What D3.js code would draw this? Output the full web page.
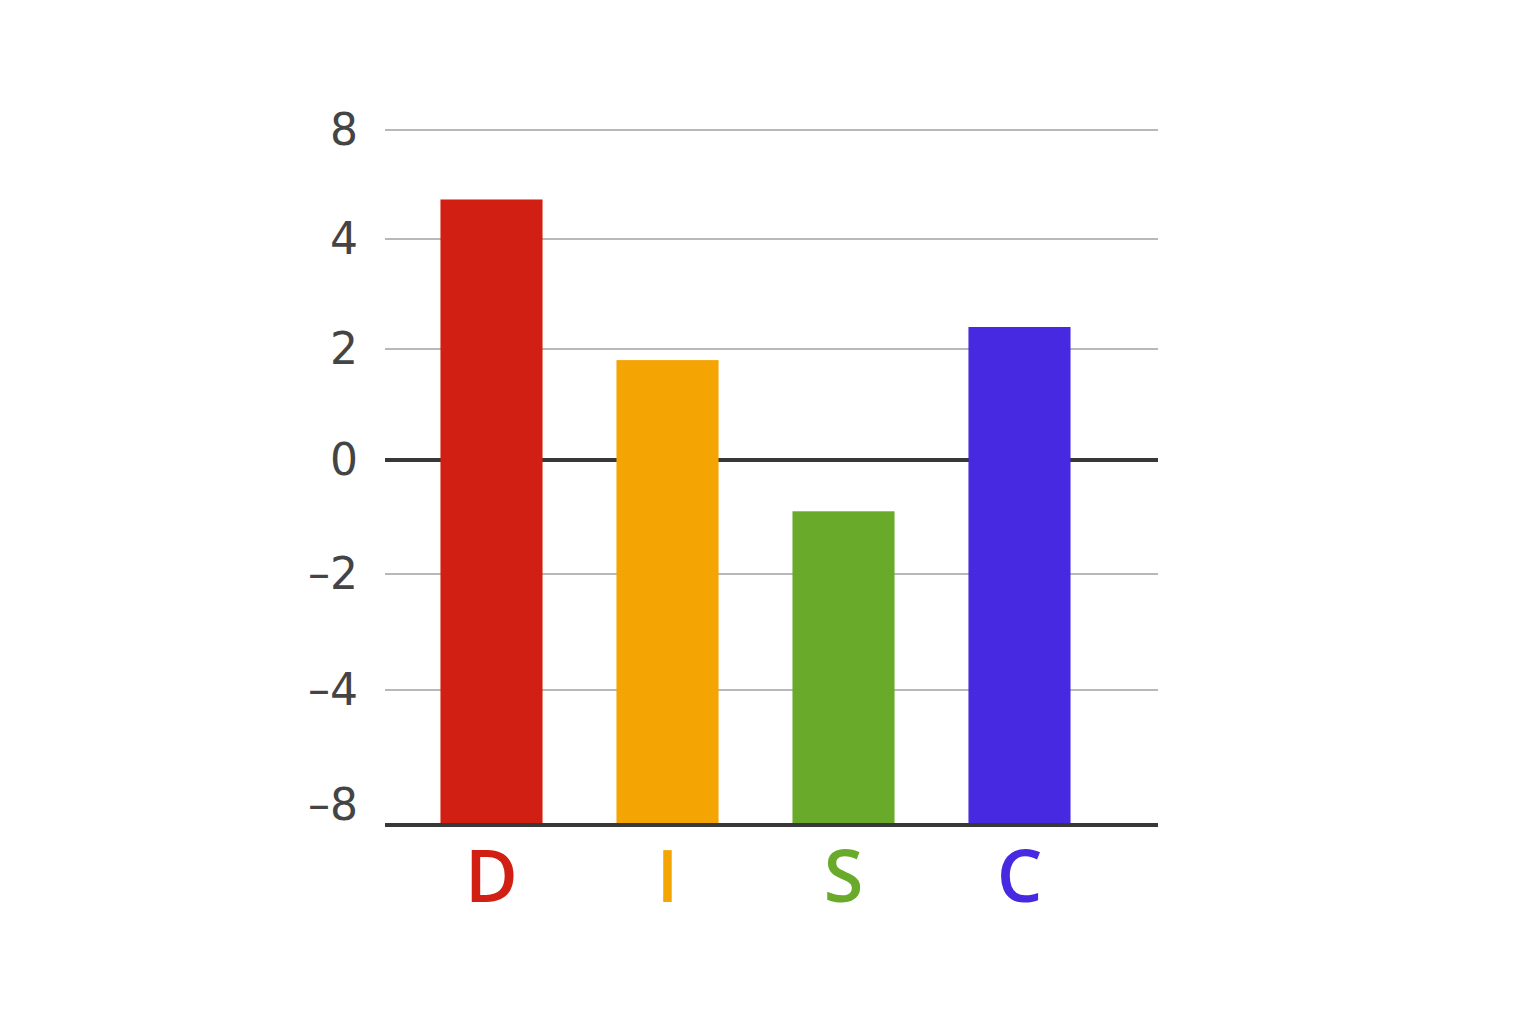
<!DOCTYPE html>
<html>
<head>
<meta charset="utf-8">
<script src="https://cdn.jsdelivr.net/npm/d3@7"></script>
<style>
  body { margin: 0; background: #fff; }
  svg { display: block; }
</style>
</head>
<body>
<div id="chart"></div>
<script>
// Données
const categories = ["D", "I", "S", "C"];
const values = [5.45, 1.8, -0.9, 2.4];
const barColors = ["#d21f14", "#f5a503", "#6aaa2a", "#4629e0"];
const tickValues = [8, 4, 2, 0, -2, -4, -8];

const width = 1536;
const height = 1024;

const svg = d3.select("#chart")
    .append("svg")
    .attr("width", width)
    .attr("height", height);

// Axe y non uniforme : les graduations sont à pas égal en pixels
const yScale = d3.scaleLinear()
    .domain([-8, -4, -2, 0, 2, 4, 8])
    .range([825, 690, 574, 460, 349, 239, 130]);

const xScale = d3.scaleBand()
    .domain(categories)
    .range([403.5, 1107.5])
    .paddingInner(0.42)
    .paddingOuter(0.21);

const x0 = 385, x1 = 1158;

// Lignes de grille
svg.append("g")
    .selectAll("line")
    .data(tickValues.filter(d => d !== 0 && d !== -8))
    .enter()
    .append("line")
    .attr("x1", x0)
    .attr("x2", x1)
    .attr("y1", d => yScale(d))
    .attr("y2", d => yScale(d))
    .attr("stroke", "#a0a0a0")
    .attr("stroke-width", 1.6);

// Ligne du zéro
svg.append("line")
    .attr("x1", x0).attr("x2", x1)
    .attr("y1", yScale(0)).attr("y2", yScale(0))
    .attr("stroke", "#383838")
    .attr("stroke-width", 4);

// Barres depuis le bas de l'axe
const data = categories.map((c, i) => ({ cat: c, value: values[i], color: barColors[i] }));

svg.selectAll(".bar")
    .data(data)
    .enter()
    .append("rect")
    .attr("class", "bar")
    .attr("x", d => xScale(d.cat))
    .attr("width", xScale.bandwidth())
    .attr("y", d => yScale(d.value))
    .attr("height", d => yScale(-8) - yScale(d.value))
    .attr("fill", d => d.color);

// Ligne de base
svg.append("line")
    .attr("x1", x0).attr("x2", x1)
    .attr("y1", yScale(-8)).attr("y2", yScale(-8))
    .attr("stroke", "#383838")
    .attr("stroke-width", 4);

// Étiquettes de l'axe y
svg.append("g")
    .selectAll("text")
    .data(tickValues)
    .enter()
    .append("text")
    .attr("x", 358)
    .attr("y", d => yScale(d) + (d === -8 ? -20 : 0))
    .attr("dy", "0.35em")
    .attr("text-anchor", "end")
    .style("font-family", "'DejaVu Sans', sans-serif")
    .style("font-size", "44px")
    .style("fill", "#444")
    .text(d => d < 0 ? "\u2013" + Math.abs(d) : d);

// Étiquettes des catégories
svg.append("g")
    .selectAll("text")
    .data(data)
    .enter()
    .append("text")
    .attr("x", d => xScale(d.cat) + xScale.bandwidth() / 2)
    .attr("y", 902)
    .attr("text-anchor", "middle")
    .style("font-family", "'Open Sans', sans-serif")
    .style("font-weight", "600")
    .style("font-size", "72px")
    .style("fill", d => d.color)
    .text(d => d.cat);
</script>
</body>
</html>
